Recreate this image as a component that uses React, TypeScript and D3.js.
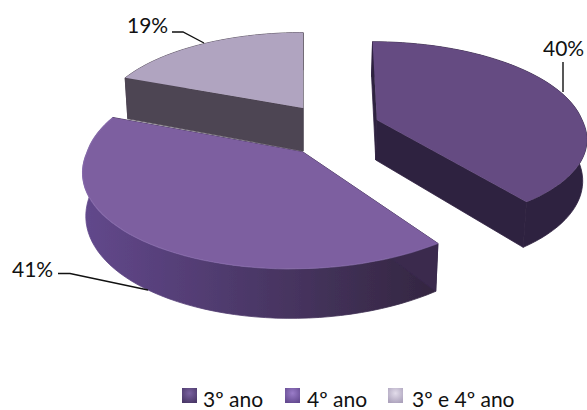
import React from "react";
import * as d3 from "d3";

// Share of students per school year
const categories = ["3º ano", "4º ano", "3º e 4º ano"];
const shares = [40, 41, 19];
const shareLabels = ["40%", "41%", "19%"];

const topColors = ["#654b82", "#7d5fa0", "#b0a4c0"];
const cutColors = ["#2f2140", "#3a2a4e", "#4d4452"];
const wallStops = [
  ["#2f2140", "#2f2140"],
  ["#62488c", "#332640"],
  ["#4d4452", "#4d4452"],
];
const legendCores = ["#7a62a0", "#9a7cc8", "#e2dcea"];
const legendEdges = ["#4a3868", "#644a90", "#aca2bc"];

// Ground-plane perspective used for the tilted pie
const vanishX = 303;
const horizonY = -500;
const xScale = 0.331;
const depthScale = 0.000233;
const thickness = 0.0645;
const bottomShrink = 0.985;

// Where each slice's apex sits after being pulled out of the pie,
// how far its near and far sides lean sideways, and its relative height
const apexes = [
  { x: 0.36, screenY: 120, leanNear: 4, leanFar: -5, height: 1 },
  { x: 0, screenY: 152, leanNear: -12, leanFar: 0, height: 1 },
  { x: 0, screenY: 108, leanNear: 0, leanFar: 0, height: 1.1 },
];

type Apex = (typeof apexes)[number];
type P = [number, number];

function project(apex: Apex, angle: number, r: number, bottom = false): P {
  const near = -Math.cos(angle) * r;
  const u = 1 / (apex.screenY - horizonY) - depthScale * near;
  const v = 1 / u;
  const X = apex.x + Math.sin(angle) * r;
  const lean = near > 0 ? apex.leanNear * near : apex.leanFar * near;
  const x = vanishX + xScale * v * X * (bottom ? bottomShrink : 1) + lean;
  const y = horizonY + v + (bottom ? thickness * apex.height * v : 0);
  return [x, y];
}

const line = d3.line<P>().curve(d3.curveLinear);

export default function App() {
  const arcs = d3.pie<number>().sort(null)(shares);
  const slices = arcs.map((a, i) => {
    const apex = apexes[i];
    const angles = d3.range(0, 61).map((k) => a.startAngle + ((a.endAngle - a.startAngle) * k) / 60);
    const topArc = angles.map((t) => project(apex, t, 1));
    const botArc = angles.map((t) => project(apex, t, 1, true));
    const apexTop = project(apex, 0, 0);
    const apexBot = project(apex, 0, 0, true);
    return {
      top: line([apexTop, ...topArc])! + "Z",
      rim: line(topArc)!,
      wall: line([...topArc, ...[...botArc].reverse()])! + "Z",
      cutA: line([apexTop, topArc[0], botArc[0], apexBot])! + "Z",
      cutB: line([apexTop, topArc[60], botArc[60], apexBot])! + "Z",
    };
  });

  const order = [2, 0, 1];
  const markerX = d3.scaleOrdinal<number, number>().domain([0, 1, 2]).range([182, 285, 388]);
  const textX = d3.scaleOrdinal<number, number>().domain([0, 1, 2]).range([203, 307, 412]);

  const labelFont = "Lato, Carlito, sans-serif";

  return (
    <svg
      width={587}
      height={410}
      style={{ position: "absolute", left: 0, top: 0, background: "#fff" }}
    >
      <defs>
        {wallStops.map((s, i) => (
          <linearGradient key={i} id={`wall${i}`} x1="0" x2="1" y1="0" y2="0">
            <stop offset="0" stopColor={s[0]} />
            <stop offset="1" stopColor={s[1]} />
          </linearGradient>
        ))}
        {legendCores.map((c, i) => (
          <radialGradient key={i} id={`key${i}`} cx="0.5" cy="0.35" r="0.7">
            <stop offset="0" stopColor={c} />
            <stop offset="1" stopColor={legendEdges[i]} />
          </radialGradient>
        ))}
        <filter id="soft" x="-5%" y="-5%" width="110%" height="110%">
          <feGaussianBlur stdDeviation="0.5" />
        </filter>
      </defs>

      <g filter="url(#soft)">
        {order.map((i) => (
          <g key={i}>
            <path d={slices[i].wall} fill={`url(#wall${i})`} stroke={`url(#wall${i})`} strokeWidth={0.8} />
            <path d={slices[i].cutA} fill={cutColors[i]} stroke={cutColors[i]} strokeWidth={0.8} />
            <path d={slices[i].cutB} fill={cutColors[i]} stroke={cutColors[i]} strokeWidth={0.8} />
            <path d={slices[i].top} fill={topColors[i]} />
          </g>
        ))}
        <path d={slices[1].rim} fill="none" stroke="#8d72b2" strokeWidth={1.2} opacity={0.6} />
      </g>

      <g fill="none" stroke="#111" strokeWidth={1.4}>
        <path d={line([[172, 32], [183, 32], [204, 43]])!} />
        <path d={line([[563, 62], [563, 92]])!} />
        <path d={line([[58, 273.5], [70, 273.5], [148, 290]])!} />
      </g>

      <g fontFamily={labelFont} fontSize={21} fill="#111">
        <text x={127} y={33}>{shareLabels[2]}</text>
        <text x={543} y={56}>{shareLabels[0]}</text>
        <text x={12} y={277}>{shareLabels[1]}</text>
      </g>

      <g fontFamily={labelFont} fontSize={21} fill="#111">
        {categories.map((c, i) => (
          <g key={c}>
            <rect x={markerX(i)} y={388} width={15} height={15} fill={`url(#key${i})`} />
            <text x={textX(i)} y={407}>{c}</text>
          </g>
        ))}
      </g>
    </svg>
  );
}
